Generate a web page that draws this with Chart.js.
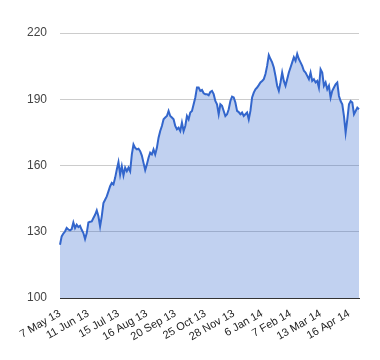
<!DOCTYPE html>
<html>
<head>
<meta charset="utf-8">
<script src="https://cdn.jsdelivr.net/npm/chart.js@4"></script>
<style>
  html, body { margin: 0; padding: 0; background: #fff; }
  #wrap { width: 380px; height: 360px; }
</style>
</head>
<body>
<div id="wrap"><canvas id="c"></canvas></div>
<script>
/* ─── Data ─────────────────────────────────────── */

// closing values, oldest first
const values = [
  124.1, 127.9, 129.2, 130.1, 131.7, 131.0, 130.6, 131.2, 134.2, 131.7,
  133.2, 132.1, 132.7, 130.9, 129.4, 126.7, 129.4, 134.2, 134.5, 134.7,
  136.2, 137.7, 139.7, 137.0, 132.4, 137.0, 143.0, 144.5, 146.0, 148.3,
  150.6, 152.1, 151.4, 154.4, 158.2, 161.5, 155.9, 159.7, 155.5, 159.0,
  157.4, 159.0, 157.4, 165.0, 169.5, 168.0, 167.3, 167.6, 166.5, 164.5,
  161.2, 157.9, 160.5, 163.5, 165.8, 165.0, 167.3, 165.0, 168.0,
  172.6, 175.6, 177.9, 180.9, 181.7, 182.4, 184.7, 182.4, 181.7, 180.9,
  177.9, 176.4, 177.1, 175.6, 179.4, 175.6, 177.9, 182.4, 180.9, 184.0,
  184.7, 187.7, 190.8, 195.3, 195.3, 193.8, 194.2, 192.7, 192.3, 192.3, 191.8,
  193.3, 193.8, 192.3, 189.2, 187.7, 183.2, 187.7, 187.0, 184.7, 182.4,
  183.2, 185.5, 189.2, 191.2, 190.8, 188.5, 184.7, 184.2, 183.2, 184.0,
  182.4, 183.2, 184.0, 180.9, 184.7, 190.8, 193.0, 194.5, 195.3, 196.4,
  197.6, 198.3, 199.1, 201.4, 205.1, 210.0, 208.2, 206.7, 204.4, 200.6,
  196.1, 193.8, 197.6, 202.1, 198.3, 196.1, 199.1, 202.1, 204.4, 206.7,
  209.0, 207.4, 210.5, 208.2, 206.7, 205.1, 202.9, 202.1, 200.6,
  199.1, 202.1, 198.3, 199.1, 197.6, 198.3, 195.3, 203.6, 202.1, 196.1,
  197.6, 194.5, 196.1, 190.8, 193.8, 195.3, 196.8, 197.6, 191.5, 189.2,
  187.7, 182.4, 174.9, 180.9, 187.7, 189.2, 188.5, 183.2, 184.7, 186.2, 185.5
];

const tickLabels = ['7 May 13', '11 Jun 13', '15 Jul 13', '16 Aug 13', '20 Sep 13',
  '25 Oct 13', '28 Nov 13', '6 Jan 14', '7 Feb 14', '13 Mar 14', '16 Apr 14'];
const tickIdx = [0, 17, 35, 52, 69, 87, 104, 121, 138, 156, 173];

const yTicks = [100, 130, 160, 190, 220];

/* ─── Chart ────────────────────────────────────── */

const FONT = 'Arial, "Liberation Sans", sans-serif';

new Chart(document.getElementById('c'), {
  type: 'line',
  data: {
    labels: values.map((_, i) => i),
    datasets: [{
      data: values,
      borderColor: '#3366cc',
      backgroundColor: 'rgba(51,102,204,0.3)',
      borderWidth: 2, fill: 'start', tension: 0,
      pointRadius: 0, pointHoverRadius: 0,
    }]
  },
  options: {
    responsive: true, maintainAspectRatio: false, animation: false,
    layout: { padding: { top: 33, right: 21, left: 0, bottom: 0 } },
    plugins: { legend: { display: false }, tooltip: { enabled: false } },
    scales: {
      x: {
        grid: { display: false, drawTicks: false },
        border: { display: true, color: '#333', width: 1 },
        ticks: {
          autoSkip: false, minRotation: 30, maxRotation: 30, padding: 9,
          color: '#222', font: { family: FONT, size: 11 },
          callback: (v, i) => {
            const k = tickIdx.indexOf(i);
            return k >= 0 ? tickLabels[k] : '';
          },
        },
        afterFit: s => { s.height = 62; },
      },
      y: {
        min: yTicks[0], max: yTicks[yTicks.length - 1],
        afterBuildTicks: s => { s.ticks = yTicks.map(v => ({ value: v })); },
        grid: { color: '#cccccc', drawTicks: false },
        border: { display: false },
        ticks: { color: '#444', padding: 13, font: { family: FONT, size: 12 } },
        afterFit: s => { s.width = 60; },
      },
    },
  },
});
</script>
</body>
</html>
